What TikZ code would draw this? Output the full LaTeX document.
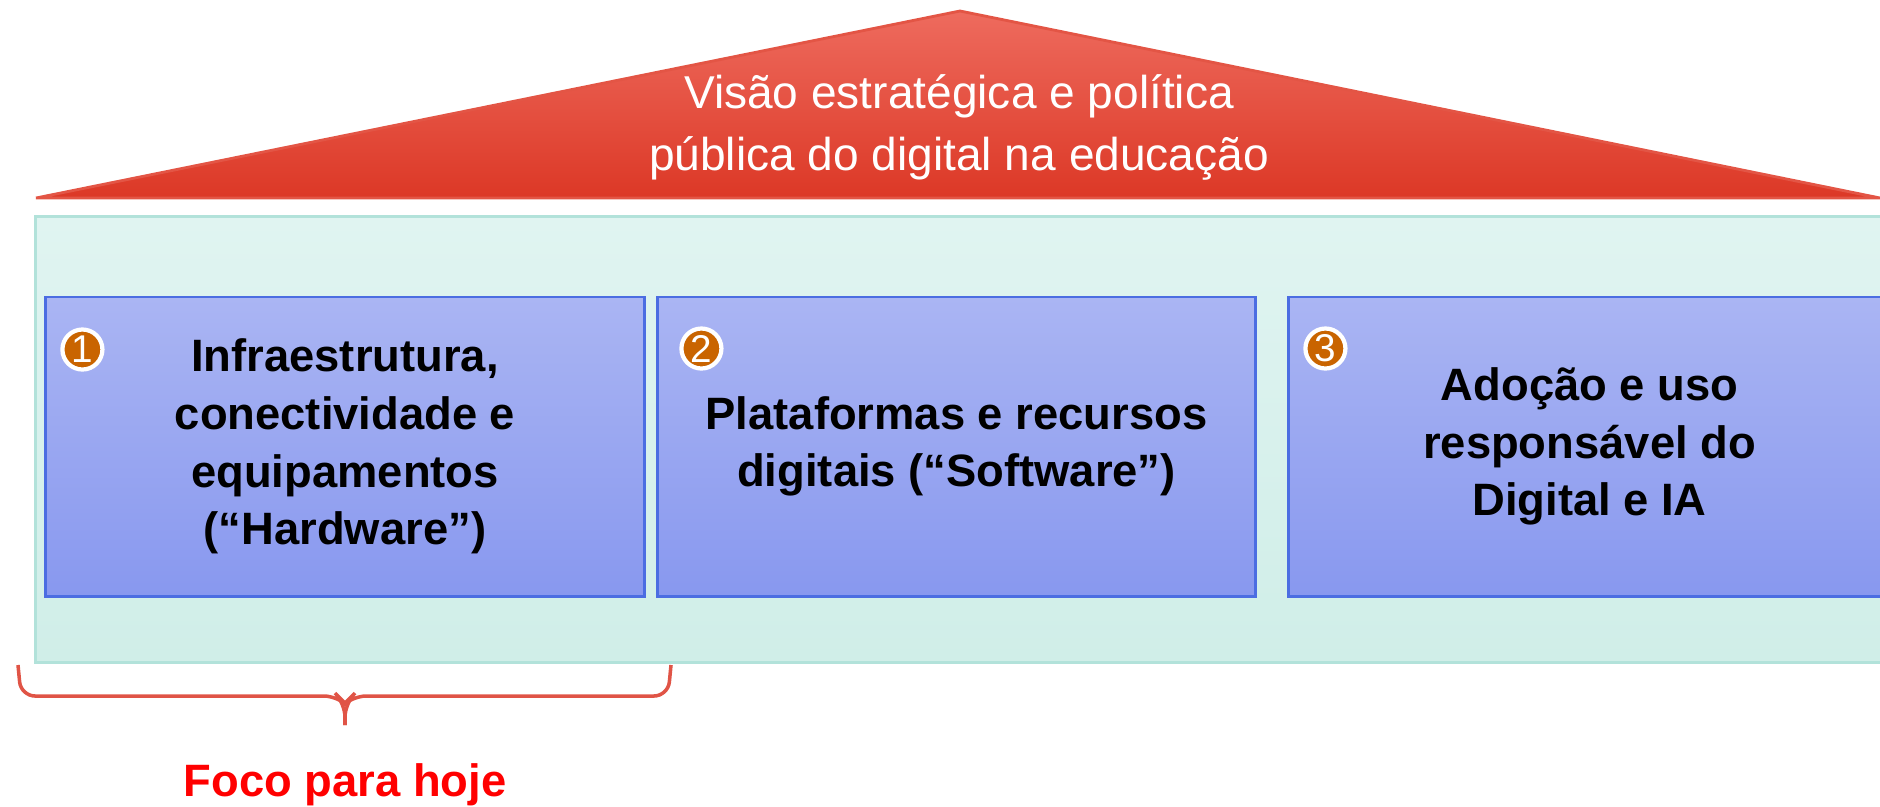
\documentclass[tikz,border=0pt]{standalone}
\usepackage{fontspec}
\setmainfont{Liberation Sans}

\definecolor{roofTop}{HTML}{EE6B5E}
\definecolor{roofBot}{HTML}{DC3826}
\definecolor{roofLine}{HTML}{E35545}
\definecolor{baseTop}{HTML}{E0F4F1}
\definecolor{baseBot}{HTML}{D0EEE8}
\definecolor{baseLine}{HTML}{B2E2DA}
\definecolor{pillarTop}{HTML}{AAB5F3}
\definecolor{pillarBot}{HTML}{8898EF}
\definecolor{pillarLine}{HTML}{4B6DE2}
\definecolor{numFill}{HTML}{C96400}
\definecolor{braceLine}{HTML}{E05446}

\begin{document}
\begin{tikzpicture}[x=0.01cm,y=-0.01cm,
    pillar/.style={draw=pillarLine, line width=0.8pt, top color=pillarTop, bottom color=pillarBot,
        minimum width=#1, minimum height=2.99cm, align=center, inner sep=0pt,
        font=\fontsize{12.9}{16.4}\selectfont\bfseries},
    num/.style={circle, draw=white, line width=1.2pt, fill=numFill, text=white,
        minimum size=0.4cm, inner sep=0pt, font=\fontsize{11}{12}\selectfont},
    focobrace/.style={draw=braceLine, line width=1pt, rounded corners=4pt}]
    \useasboundingbox (0,0) rectangle (1880,806);
    \clip (0,0) rectangle (1880,806);

    % base
    \node[draw=baseLine, line width=0.9pt, top color=baseTop, bottom color=baseBot,
        minimum width=18.54cm, minimum height=4.45cm] (base) at (963,439.5) {};

    % roof
    \shadedraw[draw=roofLine, line width=0.8pt, top color=roofTop, bottom color=roofBot]
        (960,11) -- (36,198) -- (1880,198) -- cycle;
    \node[text=white, align=center, font=\fontsize{13.1}{17.6}\selectfont] (roof) at (959,127)
        {Visão estratégica e política\\pública do digital na educação};

    % pillars
    \node[pillar=5.98cm] (infra) at (345,446.5) {Infraestrutura,\\conectividade e\\equipamentos\\(“Hardware”)};
    \node[pillar=5.97cm] (soft) at (956.5,446.5) {Plataformas e recursos\\digitais (“Software”)};
    \node[pillar=6.01cm] (uso) at (1589.5,446.5) {Adoção e uso\\responsável do\\Digital e IA};

    \node[num] (n1) at ([shift={(38,54)}]infra.north west) {1};
    \node[num] (n2) at ([shift={(45,53)}]soft.north west) {2};
    \node[num] (n3) at ([shift={(38,53)}]uso.north west) {3};

    % focus
    \coordinate (bl) at (18,665);
    \coordinate (br) at (671,665);
    \coordinate (tip) at (345,725);
    \draw[focobrace] (bl) -- (21,696) -- (338,696) -- (345,703) -- (tip);
    \draw[focobrace] (tip) -- (345,703) -- (352,696) -- (668,696) -- (br);
    \node[text=red, font=\fontsize{12.9}{15}\selectfont\bfseries] (foco) at (345,785) {Foco para hoje};
\end{tikzpicture}
\end{document}
